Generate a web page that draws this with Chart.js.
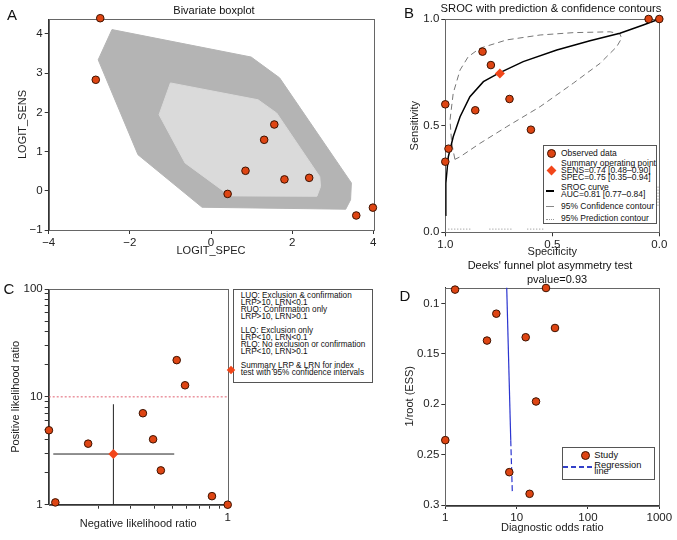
<!DOCTYPE html>
<html>
<head>
<meta charset="utf-8">
<script src="https://cdn.jsdelivr.net/npm/chart.js@4.4.1/dist/chart.umd.min.js"></script>
<style>
  body { margin: 0; background: #fff; }
  #fig { position: relative; width: 677px; height: 540px; overflow: hidden; font-family: "Liberation Sans", Arial, sans-serif; color: #111; }
  #fig canvas { position: absolute; }
  .c { position: absolute; transform: translate(-50%, -50%); line-height: 1; white-space: nowrap; }
  .lg { position: absolute; white-space: nowrap; }
  .box { position: absolute; border: 1px solid #555; background: #fff; box-sizing: border-box; }
  .dot { position: absolute; border-radius: 50%; background: #de4513; border: 1px solid #3d1200; box-sizing: border-box; }
  .dia { position: absolute; background: #f2461a; transform: rotate(45deg); }
</style>
</head>
<body>
<div id="fig">
  <canvas id="chartA" width="385" height="270" style="left:0;top:0"></canvas>
  <canvas id="chartB" width="337" height="270" style="left:340px;top:0"></canvas>
  <canvas id="chartC" width="340" height="270" style="left:0;top:270px"></canvas>
  <canvas id="chartD" width="337" height="270" style="left:340px;top:270px"></canvas>

  <!-- panel letters and titles -->
  <div class="c" style="left:12px;top:14px;font-size:15px">A</div>
  <div class="c" style="left:409px;top:12px;font-size:15px">B</div>
  <div class="c" style="left:9px;top:288px;font-size:15px">C</div>
  <div class="c" style="left:405px;top:295px;font-size:15px">D</div>
  <div class="c" style="left:214px;top:10px;font-size:11px">Bivariate boxplot</div>
  <div class="c" style="left:551px;top:8.5px;font-size:11.2px">SROC with prediction &amp; confidence contours</div>
  <div class="c" style="left:550px;top:265px;font-size:11px">Deeks' funnel plot asymmetry test</div>
  <div class="c" style="left:557px;top:279px;font-size:11px">pvalue=0.93</div>

  <!-- legend B -->
  <div class="box" style="left:543px;top:145px;width:114px;height:79px"></div>
  <div class="dot" style="left:546.5px;top:148.8px;width:9px;height:9px"></div>
  <div class="lg" style="left:561px;top:148.5px;font-size:8.5px;line-height:9.6px">Observed data</div>
  <div class="dia" style="left:547.5px;top:166.8px;width:7px;height:7px"></div>
  <div class="lg" style="left:561px;top:160.3px;font-size:8.5px;line-height:6.8px">Summary operating point<br>SENS=0.74 [0.48–0.90]<br>SPEC=0.75 [0.35–0.94]</div>
  <div class="lg" style="left:546px;top:190px;width:8px;height:2px;background:#000"></div>
  <div class="lg" style="left:561px;top:184.4px;font-size:8.5px;line-height:6.6px">SROC curve<br>AUC=0.81 [0.77–0.84]</div>
  <div class="lg" style="left:546px;top:206px;width:8px;border-top:1px solid #888"></div>
  <div class="lg" style="left:561px;top:202px;font-size:8.5px;line-height:9.6px">95% Confidence contour</div>
  <div class="lg" style="left:546px;top:218.5px;width:8px;border-top:1px dotted #999"></div>
  <div class="lg" style="left:561px;top:214.3px;font-size:8.5px;line-height:9.6px">95% Prediction contour</div>

  <!-- legend C -->
  <div class="box" style="left:233px;top:288.5px;width:140px;height:94px"></div>
  <div class="lg" style="left:240.7px;top:292.2px;font-size:8.2px;line-height:7px">LUQ: Exclusion &amp; confirmation<br>LRP&gt;10, LRN&lt;0.1<br>RUQ: Confirmation only<br>LRP&gt;10, LRN&gt;0.1</div>
  <div class="lg" style="left:240.7px;top:326.5px;font-size:8.2px;line-height:7px">LLQ: Exclusion only<br>LRP&lt;10, LRN&lt;0.1<br>RLQ: No exclusion or confirmation<br>LRP&lt;10, LRN&gt;0.1</div>
  <div class="dia" style="left:228.3px;top:367px;width:6px;height:6px"></div>
  <div class="lg" style="left:240.7px;top:362px;font-size:8.2px;line-height:7px">Summary LRP &amp; LRN for index<br>test with 95% confidence intervals</div>

  <!-- legend D -->
  <div class="box" style="left:562px;top:446.7px;width:93px;height:33px"></div>
  <div class="dot" style="left:580.5px;top:450.5px;width:9px;height:9px"></div>
  <div class="lg" style="left:594.3px;top:450px;font-size:9.3px;line-height:10px">Study</div>
  <div class="lg" style="left:562.5px;top:466px;width:29px;height:1.5px;background:repeating-linear-gradient(90deg,#3340c8 0 5px,transparent 5px 8px)"></div>
  <div class="lg" style="left:594.3px;top:461.8px;font-size:9.3px;line-height:6.3px">Regression<br>line</div>
</div>

<script>
const FONT = '"Liberation Sans", Arial, sans-serif';

// A: bivariate boxplot (logit specificity vs logit sensitivity)
const aSpec = [-2.73, 3.99, 1.56, 3.58, 0.85, 1.81, 2.42, 0.41, -2.84, 1.31];
const aSens = [4.40, -0.43, 1.69, -0.63, 0.51, 0.29, 0.33, -0.08, 2.83, 1.30];
const aHullSpec = [-2.44, 0.99, 1.69, 3.46, 3.44, 3.32, -0.22, -1.80, -2.78];
const aHullSens = [4.11, 3.41, 2.88, 0.20, -0.23, -0.47, -0.42, 0.92, 3.34];
const aCoreSpec = [-1.00, 1.16, 1.62, 2.68, 2.70, 2.61, 0.47, -0.64, -1.28];
const aCoreSens = [2.75, 2.32, 1.98, 0.36, 0.11, -0.14, -0.13, 0.71, 1.94];
const aXTicks = [-4, -2, 0, 2, 4];
const aYTicks = [-1, 0, 1, 2, 3, 4];

// B: SROC
const bSpec = [1.0, 0.985, 1.0, 0.826, 0.787, 0.86, 0.70, 0.60, 0.05, 0.0];
const bSens = [0.60, 0.392, 0.331, 0.847, 0.784, 0.572, 0.625, 0.481, 1.0, 1.0];
const bSumSpec = [0.745];
const bSumSens = [0.745];
const srocSpec = [1.0, 0.998, 0.997, 0.986, 0.963, 0.931, 0.885, 0.822, 0.752, 0.636, 0.479, 0.324, 0.184, 0.075, 0.0];
const srocSens = [0.08, 0.105, 0.23, 0.354, 0.448, 0.542, 0.636, 0.706, 0.745, 0.80, 0.855, 0.898, 0.933, 0.972, 1.0];
const confSpec = [0.955, 0.970, 0.978, 0.963, 0.931, 0.893, 0.838, 0.713, 0.557, 0.402, 0.230, 0.184, 0.176, 0.199, 0.277, 0.402, 0.557, 0.713, 0.838, 0.931, 0.955];
const confSens = [0.342, 0.417, 0.526, 0.652, 0.761, 0.823, 0.863, 0.902, 0.925, 0.936, 0.940, 0.930, 0.910, 0.870, 0.792, 0.699, 0.589, 0.495, 0.417, 0.354, 0.342];
const predSpec = [0.986, 0.877, null, 0.794, 0.685, null, 0.617, 0.542, null, 0.006, 0.006];
const predSens = [0.015, 0.015, null, 0.015, 0.015, null, 0.015, 0.015, null, 0.214, 0.12];
const bTicks = [0, 0.5, 1];

// C: likelihood ratio scattergram
const cLrn = [0.108, 0.117, 0.176, 0.348, 0.395, 0.435, 0.530, 0.588, 0.822, 1.0];
const cLrp = [4.90, 1.05, 3.68, 7.05, 4.04, 2.08, 21.9, 12.8, 1.20, 1.0];
const cSumLrn = [0.241];
const cSumLrp = [2.95];
const cLrnCI = [0.114, 0.514];
const cLrpCI = [1.0, 8.54];
const cXMin = 0.1077;
const cXTicks = [0.2, 0.3, 0.4, 0.5, 0.6, 0.7, 0.8, 0.9, 1];
const cXLabels = ['', '', '', '', '', '', '', '', '1'];
const cYTicks = [1, 2, 3, 4, 5, 6, 7, 8, 9, 10, 20, 30, 40, 50, 60, 70, 80, 90, 100];
const cYLabels = ['1', '', '', '', '', '', '', '', '', '10', '', '', '', '', '', '', '', '', '100'];

// D: Deeks' funnel plot
const dDor = [1.37, 25.8, 5.19, 34.5, 3.84, 13.4, 18.7, 1.0, 7.89, 15.2];
const dEss = [0.0861, 0.0845, 0.110, 0.1242, 0.1367, 0.1334, 0.1972, 0.2356, 0.2674, 0.2889];
const regDor = [7.26, 8.27, 8.71];
const regEss = [0.084, 0.2356, 0.2885];
const dXTicks = [1, 10, 100, 1000];
const dYTicks = [0.1, 0.15, 0.2, 0.25, 0.3];

function pts(xs, ys) {
  return xs.map((x, i) => ({x: x, y: ys[i]}));
}
function closed(xs, ys) {
  const p = pts(xs, ys);
  p.push(p[0]);
  return p;
}

const framePlugin = {
  id: 'frame',
  beforeDatasetsDraw(chart) {
    const ctx = chart.ctx, a = chart.chartArea;
    ctx.save();
    ctx.strokeStyle = '#666';
    ctx.lineWidth = 1;
    ctx.strokeRect(Math.round(a.left) + 0.5, Math.round(a.top) + 0.5,
                   Math.round(a.right - a.left), Math.round(a.bottom - a.top));
    ctx.restore();
  }
};

function axis(o) {
  return {
    type: o.type || 'linear',
    position: o.pos,
    min: o.min, max: o.max,
    reverse: !!o.reverse,
    afterFit: s => { if (s.isHorizontal()) s.height = o.size; else s.width = o.size; },
    afterBuildTicks: s => { s.ticks = o.ticks.map(v => ({value: v})); },
    ticks: {
      font: {family: FONT, size: 11.5}, color: '#222', padding: 2,
      autoSkip: false, maxRotation: 0,
      callback: (v, i) => o.labels[i]
    },
    grid: {display: true, drawOnChartArea: false, drawTicks: true, tickLength: 4, tickColor: '#333'},
    border: {display: true, color: '#333', width: 1},
    title: {display: true, text: o.title, font: {family: FONT, size: 11}, color: '#222', padding: o.pad}
  };
}

function opts(pad, x, y) {
  return {
    responsive: false, animation: false, devicePixelRatio: 1,
    layout: {padding: pad},
    plugins: {legend: {display: false}, tooltip: {enabled: false}},
    scales: {x: x, y: y}
  };
}

const study = {
  showLine: false, clip: false, order: 0,
  pointRadius: 3.8, pointBorderWidth: 1,
  pointBackgroundColor: '#de4513', pointBorderColor: '#3d1200'
};
const diamond = {
  showLine: false, clip: false, order: 0,
  pointStyle: 'rectRot', pointRadius: 5, pointBorderWidth: 0,
  pointBackgroundColor: '#f2461a', pointBorderColor: '#f2461a'
};
const minus = v => String(v).replace('-', '\u2212');

new Chart(document.getElementById('chartA'), {
  type: 'scatter',
  data: {datasets: [
    Object.assign({data: pts(aSpec, aSens)}, study),
    {data: closed(aCoreSpec, aCoreSens), showLine: true, fill: 'shape', order: 1,
     backgroundColor: '#dadada', borderColor: '#dadada', borderWidth: 1, pointRadius: 0},
    {data: closed(aHullSpec, aHullSens), showLine: true, fill: 'shape', order: 2,
     backgroundColor: '#b4b4b4', borderColor: '#b4b4b4', borderWidth: 1, pointRadius: 0}
  ]},
  options: opts({left: 0, top: 19, right: 11.7, bottom: 0},
    axis({pos: 'bottom', min: -4, max: 4, ticks: aXTicks, labels: aXTicks.map(minus), size: 40,
          title: 'LOGIT_SPEC', pad: {top: 0, bottom: 12.7}}),
    axis({pos: 'left', min: -1, max: 4.38, ticks: aYTicks, labels: aYTicks.map(minus), size: 48.7,
          title: 'LOGIT_SENS', pad: {top: 16.1, bottom: 0}})),
  plugins: [framePlugin]
});

new Chart(document.getElementById('chartB'), {
  type: 'scatter',
  data: {datasets: [
    Object.assign({data: pts(bSumSpec, bSumSens)}, diamond),
    Object.assign({data: pts(bSpec, bSens)}, study, {order: 1}),
    {data: pts(srocSpec, srocSens), showLine: true, order: 2, borderColor: '#000', borderWidth: 1.5, pointRadius: 0},
    {data: pts(confSpec, confSens), showLine: true, order: 3, borderColor: '#777', borderWidth: 1,
     borderDash: [6, 4], pointRadius: 0},
    {data: pts(predSpec, predSens), showLine: true, spanGaps: false, order: 4, borderColor: '#888',
     borderWidth: 1, borderDash: [1, 2], pointRadius: 0}
  ]},
  options: opts({left: 0, top: 19, right: 17.7, bottom: 0},
    axis({pos: 'bottom', min: 0, max: 1, reverse: true, ticks: bTicks, labels: bTicks.map(v => v.toFixed(1)),
          size: 37.7, title: 'Specificity', pad: {top: 0, bottom: 11.1}}),
    axis({pos: 'left', min: 0, max: 1, ticks: bTicks, labels: bTicks.map(v => v.toFixed(1)),
          size: 105.3, title: 'Sensitivity', pad: {top: 68.4, bottom: 0}})),
  plugins: [framePlugin]
});

new Chart(document.getElementById('chartC'), {
  type: 'scatter',
  data: {datasets: [
    Object.assign({data: pts(cSumLrn, cSumLrp)}, diamond),
    Object.assign({data: pts(cLrn, cLrp)}, study, {order: 1}),
    {data: pts(cLrnCI, [cSumLrp[0], cSumLrp[0]]), showLine: true, order: 2, borderColor: '#222', borderWidth: 1, pointRadius: 0},
    {data: pts([cSumLrn[0], cSumLrn[0]], cLrpCI), showLine: true, order: 2, borderColor: '#222', borderWidth: 1, pointRadius: 0},
    {data: pts([cXMin, 1], [10, 10]), showLine: true, order: 3, borderColor: '#e06070', borderWidth: 1,
     borderDash: [2, 2], pointRadius: 0}
  ]},
  options: opts({left: 0, top: 19, right: 112.3, bottom: 0},
    axis({type: 'logarithmic', pos: 'bottom', min: cXMin, max: 1, ticks: cXTicks, labels: cXLabels, size: 35.3,
          title: 'Negative likelihood ratio', pad: {top: 0, bottom: 9}}),
    axis({type: 'logarithmic', pos: 'left', min: 1, max: 100, ticks: cYTicks, labels: cYLabels, size: 48.7,
          title: 'Positive likelihood ratio', pad: {top: 9.4, bottom: 0}})),
  plugins: [framePlugin]
});

new Chart(document.getElementById('chartD'), {
  type: 'scatter',
  data: {datasets: [
    Object.assign({data: pts(dDor, dEss)}, study),
    {data: pts(regDor, regEss), showLine: true, order: 1, borderColor: '#2b35d0', borderWidth: 1.2, pointRadius: 0,
     segment: {borderDash: c => c.p0DataIndex >= 1 ? [6, 3] : []}}
  ]},
  options: opts({left: 0, top: 17.5, right: 17.7, bottom: 0},
    axis({type: 'logarithmic', pos: 'bottom', min: 1, max: 1000, ticks: dXTicks, labels: dXTicks.map(String),
          size: 35, title: 'Diagnostic odds ratio', pad: {top: 0, bottom: 5.1}}),
    axis({pos: 'left', min: 0.084, max: 0.3, reverse: true, ticks: dYTicks, labels: dYTicks.map(String),
          size: 105.3, title: '1/root (ESS)', pad: {top: 63.4, bottom: 0}})),
  plugins: [framePlugin]
});
</script>
</body>
</html>
